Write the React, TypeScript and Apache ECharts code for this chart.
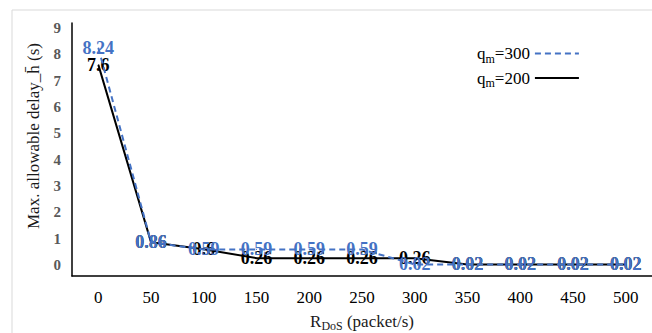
import React, { useEffect, useRef } from "react";
import * as echarts from "echarts";

const categories = ["0", "50", "100", "150", "200", "250", "300", "350", "400", "450", "500"];
const q300 = [8.24, 0.86, 0.59, 0.59, 0.59, 0.59, 0.02, 0.02, 0.02, 0.02, 0.02];
const q200 = [7.6, 0.86, 0.6, 0.26, 0.26, 0.26, 0.26, 0.02, 0.02, 0.02, 0.02];
const seriesNames = ["q_m=300", "q_m=200"];
const yTitle = "Max. allowable delay_h\u0304 (s)";

const FONT = "'Liberation Serif', 'Times New Roman', serif";
const BLUE = "#4472C4";

export default function App() {
  const ref = useRef<HTMLDivElement>(null);
  useEffect(() => {
    document.body.style.margin = "0";
    const chart = echarts.init(ref.current as HTMLDivElement, null, { renderer: "svg" });
    const labelBase = {
      show: true,
      position: "inside",
      fontWeight: "bold",
      fontSize: 18,
      fontFamily: FONT,
    };
    chart.setOption({
      animation: false,
      grid: [
        { left: 72, right: -14, top: 28, bottom: 68 },
        { left: 72, right: -14, top: 23, bottom: 57 },
      ],
      xAxis: [
        {
          type: "category",
          gridIndex: 0,
          data: categories,
          boundaryGap: true,
          axisLine: { show: false },
          axisTick: { show: false },
          axisLabel: { show: false },
        },
        {
          type: "category",
          gridIndex: 1,
          data: categories,
          boundaryGap: true,
          axisLine: { show: true, lineStyle: { color: "#000", width: 1.5 } },
          axisTick: { show: false },
          axisLabel: { margin: 13, fontFamily: FONT, fontSize: 17, color: "#000" },
        },
      ],
      yAxis: [
        {
          type: "value",
          gridIndex: 0,
          min: 0,
          max: 9,
          interval: 1,
          axisLine: { show: false },
          axisTick: { show: false },
          splitLine: { show: false },
          axisLabel: { margin: 11, fontWeight: "bold", color: "#595959", fontSize: 15, fontFamily: FONT },
        },
        {
          type: "value",
          gridIndex: 1,
          min: 0,
          max: 1,
          axisLine: { show: true, lineStyle: { color: "#000", width: 1.5 } },
          axisTick: { show: false },
          splitLine: { show: false },
          axisLabel: { show: false },
        },
      ],
      legend: {
        data: seriesNames,
        orient: "vertical",
        left: 472,
        top: 40,
        align: "right",
        itemWidth: 44,
        itemHeight: 14,
        itemGap: 5,
        itemStyle: { opacity: 0 },
        formatter: (name: string) => name.replace("q_m", "q{sub|m}"),
        textStyle: {
          fontFamily: FONT,
          fontSize: 17,
          color: "#000",
          rich: {
            sub: { fontFamily: FONT, fontSize: 12, color: "#000", padding: [10, 0, 0, 0] },
          },
        },
      },
      graphic: [
        {
          type: "rect",
          shape: { x: 12, y: 10, width: 700, height: 400 },
          style: { fill: "none", stroke: "#d9d9d9", lineWidth: 1 },
          silent: true,
        },
        {
          type: "text",
          x: 33,
          y: 136,
          rotation: Math.PI / 2,
          style: {
            text: yTitle,
            align: "center",
            verticalAlign: "middle",
            fontFamily: FONT,
            fontSize: 17,
            fill: "#1a1a1a",
          },
        },
        {
          type: "text",
          x: 362,
          y: 321,
          style: {
            text: "R{sub|DoS} (packet/s)",
            align: "center",
            verticalAlign: "middle",
            fontFamily: FONT,
            fontSize: 17,
            fill: "#1a1a1a",
            rich: {
              sub: { fontFamily: FONT, fontSize: 12, fill: "#1a1a1a", padding: [10, 0, 0, 0] },
            },
          },
        },
      ],
      series: [
        {
          name: seriesNames[1],
          type: "line",
          xAxisIndex: 0,
          yAxisIndex: 0,
          data: q200,
          symbol: "circle",
          symbolSize: 1,
          itemStyle: { color: "#000" },
          lineStyle: { color: "#000", width: 2 },
          label: { ...labelBase, color: "#000" },
          z: 2,
        },
        {
          name: seriesNames[0],
          type: "line",
          xAxisIndex: 0,
          yAxisIndex: 0,
          data: q300,
          symbol: "circle",
          symbolSize: 1,
          itemStyle: { color: BLUE },
          lineStyle: { color: BLUE, width: 2, type: [6, 4] },
          label: { ...labelBase, color: BLUE },
          z: 3,
        },
      ],
    });
    return () => chart.dispose();
  }, []);
  return <div ref={ref} style={{ width: 652, height: 333 }} />;
}
